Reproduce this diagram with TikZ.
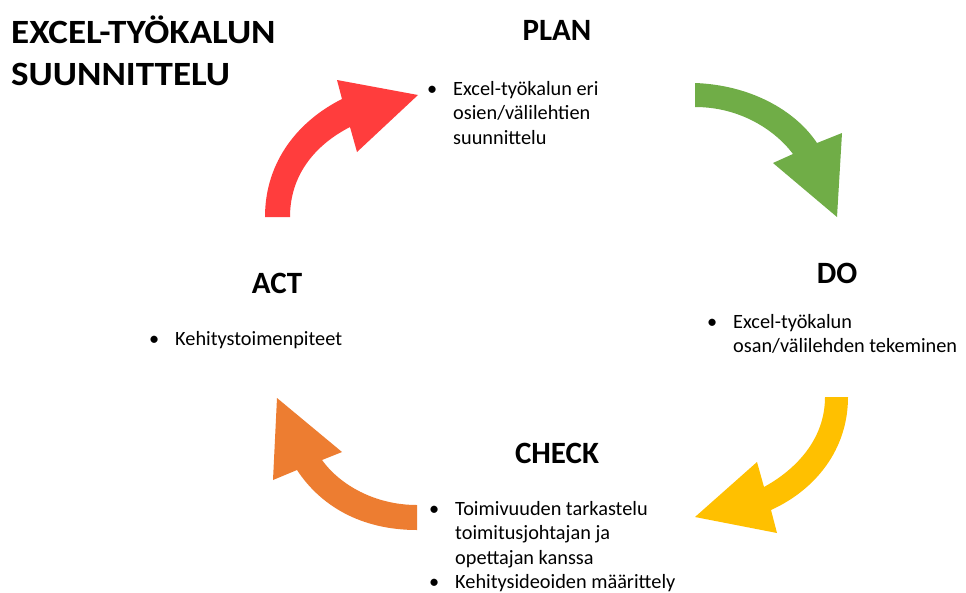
\documentclass[tikz,border=0pt]{standalone}
\usepackage{fontspec}
\setmainfont{Carlito}
\definecolor{actred}{HTML}{FF3D3D}
\definecolor{dogreen}{HTML}{70AD47}
\definecolor{checkyellow}{HTML}{FFC000}
\definecolor{actorange}{HTML}{ED7D31}
\tikzset{
  heading/.style={font=\fontsize{31}{37}\selectfont\bfseries, anchor=base, inner sep=0pt},
  titletext/.style={font=\fontsize{34}{40}\selectfont\bfseries, anchor=base west, inner sep=0pt},
  itemtext/.style={font=\fontsize{20.3}{24.5}\selectfont, anchor=base west, inner sep=0pt},
  arrowshape/.style={draw=none}
}
\newcommand{\bul}{\llap{•\hspace{16pt}}}
\begin{document}
\begin{tikzpicture}[x=1pt,y=-1pt]
\useasboundingbox (0,0) rectangle (966,592);
\fill[white] (0,0) rectangle (966,592);

% title
\node[titletext] (title1) at (11,43) {\scalebox{1.09}[1]{EXCEL-TYÖKALUN}};
\node[titletext] (title2) at (11,85) {\scalebox{1.09}[1]{SUUNNITTELU}};

% headings
\node[heading] (plan) at (557,40) {PLAN};
\node[heading] (do) at (837,283) {DO};
\node[heading] (act) at (277,293) {ACT};
\node[heading] (check) at (557,463) {CHECK};

% items
\node[itemtext] (plantext) at (453,95) {\begin{tabular}[t]{@{}l@{}}\bul Excel-työkalun eri\\ osien/välilehtien\\ suunnittelu\end{tabular}};
\node[itemtext] (dotext) at (733,328) {\begin{tabular}[t]{@{}l@{}}\bul Excel-työkalun\\ osan/välilehden tekeminen\end{tabular}};
\node[itemtext] (acttext) at (175,345) {\bul Kehitystoimenpiteet};
\node[itemtext] (checktext) at (455,515) {\begin{tabular}[t]{@{}l@{}}\bul Toimivuuden tarkastelu\\ toimitusjohtajan ja\\ opettajan kanssa\\ \bul Kehitysideoiden määrittely\end{tabular}};

% red arrow (ACT -> PLAN)
\fill[actred] (265,217) .. controls (265,160) and (300,120) .. (342,99)
  -- (337,80) -- (418,95) -- (357,152) -- (350,127)
  .. controls (315,145) and (290,175) .. (290,217) -- cycle;

% green arrow (PLAN -> DO)
\fill[dogreen] (695,83) .. controls (750,85) and (795,110) .. (817,143)
  -- (842,133) -- (837,217) -- (773,163) -- (793,154)
  .. controls (775,130) and (740,107) .. (695,107) -- cycle;

% yellow arrow (DO -> CHECK)
\fill[checkyellow] (848,397) .. controls (848,450) and (815,490) .. (771,510)
  -- (777,533) -- (695,517) -- (757,462) -- (764,487)
  .. controls (795,470) and (825,440) .. (825,397) -- cycle;

% orange arrow (CHECK -> ACT)
\fill[actorange] (417,530) .. controls (360,530) and (320,505) .. (297,470)
  -- (273,480) -- (277,398) -- (342,452) -- (322,460)
  .. controls (340,485) and (375,505) .. (417,505) -- cycle;
\end{tikzpicture}
\end{document}
